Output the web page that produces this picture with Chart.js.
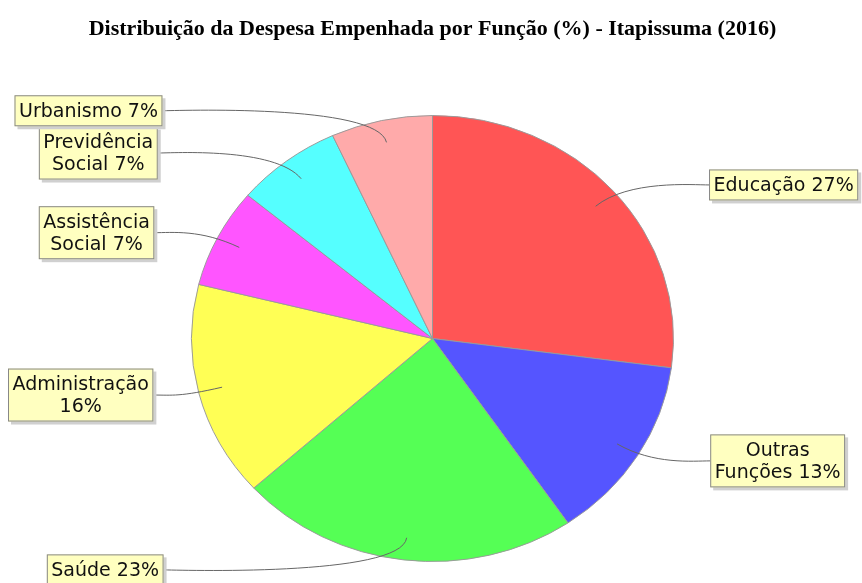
<!DOCTYPE html>
<html>
<head>
<meta charset="utf-8">
<script src="https://cdn.jsdelivr.net/npm/chart.js@4.4.0/dist/chart.umd.min.js"></script>
<style>
  html, body { margin: 0; padding: 0; background: #fff; }
  #box { width: 862px; height: 583px; }
</style>
</head>
<body>
<div id="box"><canvas id="pieChart" width="862" height="583"></canvas></div>
<script>
const funcoes = ['Educação', 'Outras Funções', 'Saúde', 'Administração', 'Assistência Social', 'Previdência Social', 'Urbanismo'];
const despesa = [27.1, 13.4, 22.8, 15.6, 7.2, 7.1, 6.8];
const cores = ['#FF5555', '#5555FF', '#55FF55', '#FFFF55', '#FF55FF', '#55FFFF', '#FFAAAA'];
const titulo = 'Distribuição da Despesa Empenhada por Função (%) - Itapissuma (2016)';

const RX = 241;          // raio horizontal
const RY = 223;          // raio vertical (pizza meio achatada)
const labelFont = '19px "DejaVu Sans"';

// desenha a pizza como elipse
const ellipsePlugin = {
    id: 'ellipse',
    beforeDatasetsDraw(chart) {
        const arc = chart.getDatasetMeta(0).data[0];
        const ctx = chart.ctx;
        ctx.save();
        ctx.translate(arc.x, arc.y);
        ctx.scale(1, RY / RX);
        ctx.translate(-arc.x, -arc.y);
    },
    afterDatasetsDraw(chart) {
        chart.ctx.restore();
    }
};

function wrapText(ctx, text, maxWidth) {
    const words = text.split(' ');
    const lines = [];
    let line = '';
    words.forEach(w => {
        const test = line ? line + ' ' + w : w;
        if (line && ctx.measureText(test).width > maxWidth) {
            lines.push(line);
            line = w;
        } else {
            line = test;
        }
    });
    lines.push(line);
    return lines;
}

// caixas amarelas com as linhas curvas
const labelsPlugin = {
    id: 'pieLabels',
    afterDraw(chart) {
        const ctx = chart.ctx;
        const meta = chart.getDatasetMeta(0);
        const values = chart.data.datasets[0].data;
        const total = values.reduce((a, b) => a + b, 0);
        ctx.save();
        ctx.font = labelFont;
        meta.data.forEach((arc, i) => {
            const cx = arc.x, cy = arc.y;
            const mid = (arc.startAngle + arc.endAngle) / 2;
            const c = Math.cos(mid), s = Math.sin(mid);
            const left = c < 0;
            const pct = Math.round(values[i] / total * 100);
            const lines = wrapText(ctx, chart.data.labels[i] + ' ' + pct + '%', 146);

            const lineH = 22;
            let w = 0;
            lines.forEach(l => { w = Math.max(w, ctx.measureText(l).width); });
            w += 9;
            const h = lines.length * lineH + 9;
            const yc = cy + 1.045 * RY * s;
            const edge = cx + (left ? -1 : 1) * (267.5 + 12 * Math.abs(c));
            const bx = left ? edge - w : edge;
            const by = yc - h / 2;

            // linha de ligação
            const px = cx + 0.9 * RX * c, py = cy + 0.9 * RY * s;
            const ex = cx + 1.08 * RX * c, ey = cy + 1.08 * RY * s;
            const ax = cx + (left ? -1 : 1) * 1.08 * RX;
            ctx.strokeStyle = '#666';
            ctx.lineWidth = 1;
            ctx.beginPath();
            ctx.moveTo(edge, yc);
            ctx.bezierCurveTo(ax, yc, ex, ey, px, py);
            ctx.stroke();

            // caixa
            ctx.fillStyle = '#d0d0d0';
            ctx.fillRect(bx + 3, by + 3, w, h);
            ctx.fillStyle = '#FFFFC0';
            ctx.fillRect(bx, by, w, h);
            ctx.strokeStyle = '#888';
            ctx.strokeRect(bx + 0.5, by + 0.5, w - 1, h - 1);

            ctx.fillStyle = '#111';
            ctx.textAlign = 'center';
            ctx.textBaseline = 'middle';
            lines.forEach((l, k) => {
                ctx.fillText(l, bx + w / 2, by + 4.5 + lineH * k + lineH / 2 + 1);
            });
        });
        ctx.restore();
    }
};

const ctx = document.getElementById('pieChart').getContext('2d');
const myChart = new Chart(ctx, {
    type: 'pie',
    data: {
        labels: funcoes,
        datasets: [{
            data: despesa,
            backgroundColor: cores,
            borderColor: '#999',
            borderWidth: 1
        }]
    },
    options: {
        responsive: false,
        animation: false,
        radius: RX,
        layout: { padding: { left: 3 } },
        events: [],
        plugins: {
            legend: { display: false },
            tooltip: { enabled: false },
            title: {
                display: true,
                text: titulo,
                color: '#000',
                font: { family: '"Liberation Serif"', size: 22, weight: 'bold' },
                padding: { top: 16, bottom: 51.6 }
            }
        }
    },
    plugins: [ellipsePlugin, labelsPlugin]
});
</script>
</body>
</html>
